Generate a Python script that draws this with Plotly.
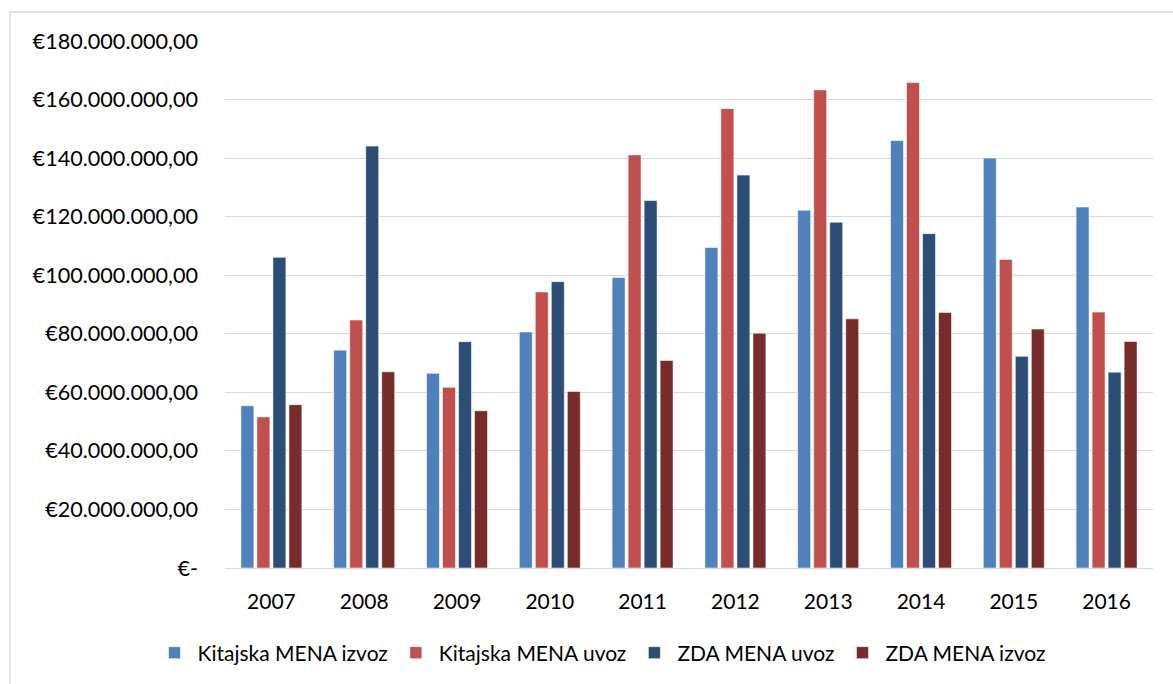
import plotly.graph_objects as go

years = ["2007", "2008", "2009", "2010", "2011", "2012", "2013", "2014", "2015", "2016"]

kitajska_izvoz = [55.4, 74.4, 66.5, 80.6, 99.2, 109.5, 122.2, 146.0, 140.0, 123.3]
kitajska_uvoz = [51.6, 84.7, 61.7, 94.3, 141.1, 156.9, 163.3, 165.8, 105.4, 87.4]
zda_uvoz = [106.1, 144.1, 77.3, 97.8, 125.5, 134.2, 118.1, 114.2, 72.3, 66.9]
zda_izvoz = [55.8, 67.0, 53.7, 60.3, 70.9, 80.2, 85.1, 87.3, 81.6, 77.4]

series_names = ["Kitajska MENA izvoz", "Kitajska MENA uvoz", "ZDA MENA uvoz", "ZDA MENA izvoz"]
series_colors = ["#4F81BD", "#C0504D", "#2C4D75", "#772C2A"]

tick_vals = [0, 20e6, 40e6, 60e6, 80e6, 100e6, 120e6, 140e6, 160e6, 180e6]
tick_text = ["€-", "€20.000.000,00", "€40.000.000,00", "€60.000.000,00", "€80.000.000,00",
             "€100.000.000,00", "€120.000.000,00", "€140.000.000,00", "€160.000.000,00",
             "€180.000.000,00"]

FONT = "Lato, 'Open Sans', sans-serif"

fig = go.Figure()
for name, vals, col in zip(series_names, [kitajska_izvoz, kitajska_uvoz, zda_uvoz, zda_izvoz], series_colors):
    fig.add_trace(go.Bar(
        x=years, y=[v * 1e6 for v in vals], name=name,
        marker=dict(color=col, line=dict(color="rgba(255,255,255,0.55)", width=1)),
    ))

W, H = 1173, 684
L, R, T, B = 225, 20, 41, 116
pw, ph = W - L - R, H - T - B

fig.update_layout(
    width=W, height=H,
    margin=dict(l=L, r=R, t=T, b=B, pad=0, autoexpand=False),
    paper_bgcolor="white", plot_bgcolor="white",
    barmode="group", bargap=0.31, bargroupgap=0.19,
    font=dict(family=FONT, size=21.6, color="#000000"),
    showlegend=True,
    legend=dict(orientation="h", xref="container", yref="container",
                xanchor="center", x=601 / W,
                yanchor="middle", y=(H - 653) / H,
                font=dict(family=FONT, size=21, color="#000000"),
                bgcolor="rgba(0,0,0,0)", itemwidth=36, traceorder="normal"),
    xaxis=dict(type="category", showgrid=False, showline=True, linecolor="#D9D9D9",
               linewidth=1.3, ticks="", ticklabelstandoff=15,
               tickfont=dict(family=FONT, size=21, color="#000000")),
    yaxis=dict(range=[0, 180e6], tickvals=tick_vals, ticktext=tick_text,
               showgrid=True, gridcolor="#D9D9D9", gridwidth=1.3, zeroline=False,
               showline=False, ticks="", ticklabelstandoff=26,
               tickfont=dict(family=FONT, size=21.6, color="#000000")),
    shapes=[dict(type="rect", xref="paper", yref="paper",
                 x0=(10 - L) / pw, x1=(1185 - L) / pw,
                 y0=(H - B - 700) / ph, y1=(H - B - 12) / ph,
                 line=dict(color="#D9D9D9", width=1.3), fillcolor="rgba(0,0,0,0)", layer="below")],
)

fig.write_html("out.html", config={"displayModeBar": False},
               post_script="document.body.style.margin='0';")
